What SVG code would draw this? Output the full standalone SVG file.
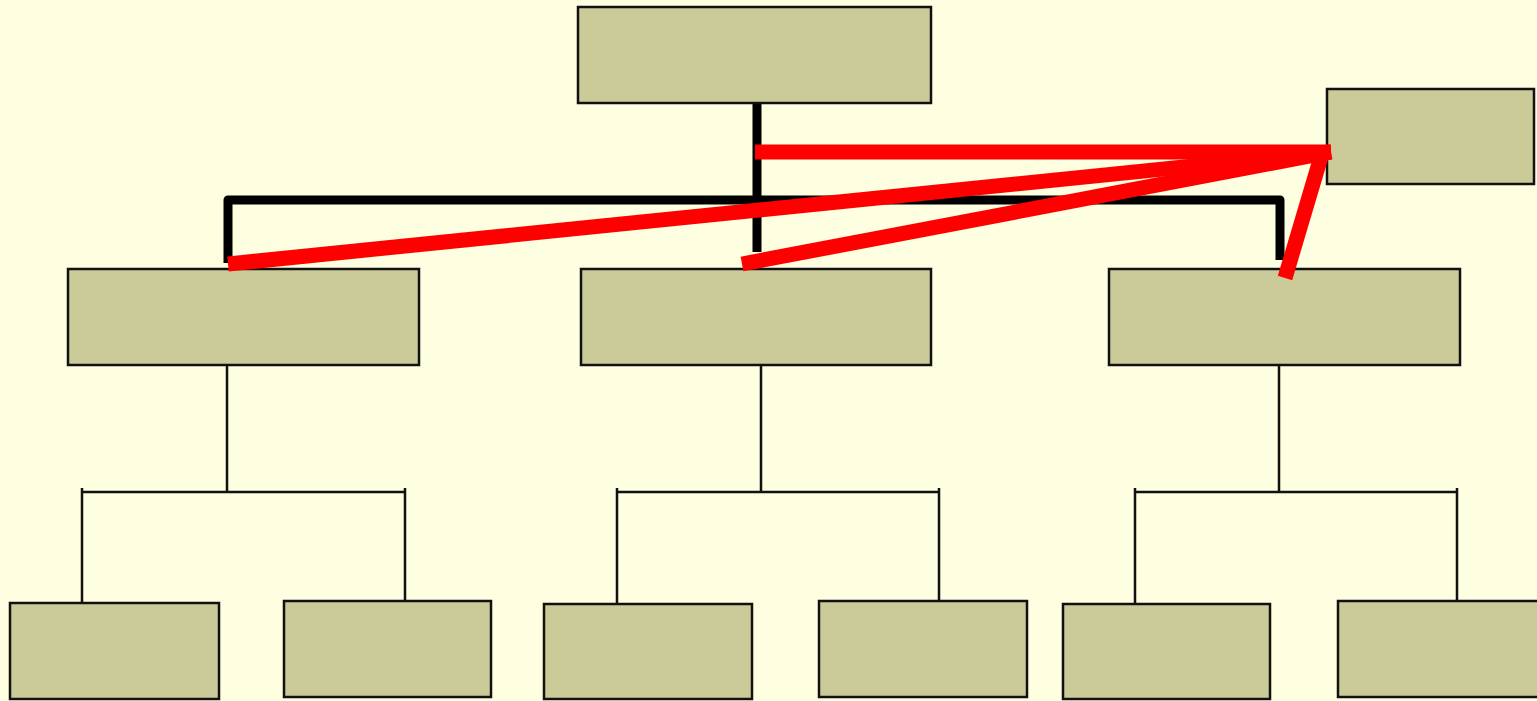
<svg xmlns="http://www.w3.org/2000/svg" width="1537" height="701" viewBox="0 0 1537 701">
<style>
.box{fill:#CBCB9A;stroke:#111;stroke-width:2.5}
.thick{fill:none;stroke:#000;stroke-width:9;stroke-linejoin:round}
.thin{fill:none;stroke:#111;stroke-width:2.5}
.red{fill:none;stroke:#FF0000;stroke-width:15;stroke-linecap:butt}
</style>
<rect width="1537" height="701" fill="#FEFEE0"/>
<g id="connectors">
<line class="thick" x1="757" y1="103" x2="757" y2="252"/>
<polyline class="thick" points="228,263 228,200 1280,200 1280,260"/>
<line class="thin" x1="227" y1="360" x2="227" y2="492"/>
<polyline class="thin" points="82,602 82,488 82,492 405,492 405,488 405,600"/>
<line class="thin" x1="761" y1="360" x2="761" y2="492"/>
<polyline class="thin" points="617,603 617,488 617,492 939,492 939,488 939,600"/>
<line class="thin" x1="1279" y1="360" x2="1279" y2="492"/>
<polyline class="thin" points="1135,603 1135,488 1135,492 1457,492 1457,488 1457,600"/>
</g>
<g id="n-top"><rect class="box" x="578" y="7" width="353" height="96"/></g>
<g id="n-side"><rect class="box" x="1327" y="89" width="207" height="95"/></g>
<g id="n-l2a"><rect class="box" x="68" y="269" width="351" height="96"/></g>
<g id="n-l2b"><rect class="box" x="581" y="269" width="350" height="96"/></g>
<g id="n-l2c"><rect class="box" x="1109" y="269" width="351" height="96"/></g>
<g id="n-l3a"><rect class="box" x="10" y="603" width="209" height="96"/></g>
<g id="n-l3b"><rect class="box" x="284" y="601" width="207" height="96"/></g>
<g id="n-l3c"><rect class="box" x="544" y="604" width="208" height="95"/></g>
<g id="n-l3d"><rect class="box" x="819" y="601" width="208" height="96"/></g>
<g id="n-l3e"><rect class="box" x="1063" y="604" width="207" height="95"/></g>
<g id="n-l3f"><rect class="box" x="1338" y="601" width="210" height="96"/></g>
<g id="red-connectors">
<line class="red" x1="755" y1="152" x2="1331" y2="152"/>
<line class="red" x1="228" y1="264" x2="1331" y2="152"/>
<line class="red" x1="742" y1="264" x2="1331" y2="152"/>
<line class="red" x1="1285" y1="278" x2="1323" y2="150"/>
</g>
</svg>
